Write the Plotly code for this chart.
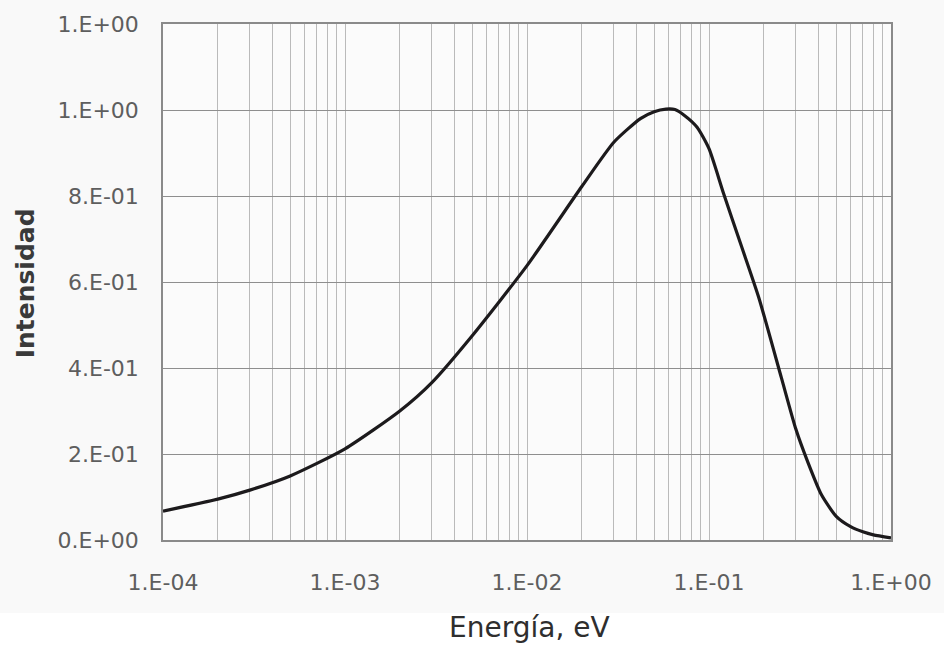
import plotly.graph_objects as go

# Data
energia_ev = [1e-4, 2e-4, 3e-4, 5e-4, 1e-3, 2e-3, 3e-3, 5e-3, 1e-2, 2e-2, 3e-2, 4.2e-2,
              5e-2, 5.8e-2, 6.5e-2, 7.3e-2, 8.6e-2, 0.1, 0.12, 0.15, 0.188, 0.25, 0.3,
              0.35, 0.415, 0.5, 0.6, 0.7, 0.8, 1.0]
intensidad = [0.067, 0.095, 0.116, 0.149, 0.212, 0.300, 0.366, 0.475, 0.638, 0.822,
              0.925, 0.980, 0.996, 1.002, 1.001, 0.988, 0.960, 0.910, 0.807, 0.686,
              0.563, 0.377, 0.258, 0.180, 0.105, 0.055, 0.031, 0.019, 0.012, 0.005]

y_tickvals = [0.0, 0.2, 0.4, 0.6, 0.8, 1.0, 1.2]
y_ticktext = ["0.E+00", "2.E-01", "4.E-01", "6.E-01", "8.E-01", "1.E+00", "1.E+00"]

decades = [1e-4, 1e-3, 1e-2, 1e-1, 1e0]
decade_labels = ["1.E-04", "1.E-03", "1.E-02", "1.E-01", "1.E+00"]

x_tickvals, x_ticktext = [], []
for d, lab in zip(decades[:-1], decade_labels[:-1]):
    for m in range(1, 10):
        x_tickvals.append(d * m)
        x_ticktext.append(lab if m == 1 else "")
x_tickvals.append(decades[-1])
x_ticktext.append(decade_labels[-1])

FONT = "DejaVu Sans"

fig = go.Figure()
fig.add_trace(go.Scatter(
    x=energia_ev, y=intensidad, mode="lines",
    line=dict(color="#1c1a1c", width=3.2, shape="spline", smoothing=0.6),
    showlegend=False, hoverinfo="x+y",
))

fig.update_layout(
    width=944, height=646, autosize=False,
    margin=dict(l=163, r=46, t=24, b=106),
    paper_bgcolor="#f9f9f9",
    plot_bgcolor="#fbfbfb",
    font=dict(family=FONT, color="#5a5a5a", size=22),
    xaxis=dict(
        type="log", range=[-4, 0],
        tickmode="array", tickvals=x_tickvals, ticktext=x_ticktext,
        showgrid=True, gridcolor="#bababa", gridwidth=1,
        showline=True, linecolor="#8a8a8a", linewidth=1.5, mirror=True,
        ticks="", zeroline=False,
        tickfont=dict(family=FONT, size=22, color="#5e5e5e"),
        ticklabelstandoff=22,
    ),
    yaxis=dict(
        range=[0, 1.2],
        tickmode="array", tickvals=y_tickvals, ticktext=y_ticktext,
        showgrid=True, gridcolor="#8e8e8e", gridwidth=1.2,
        showline=True, linecolor="#8a8a8a", linewidth=1.5, mirror=True,
        ticks="", zeroline=False,
        tickfont=dict(family=FONT, size=22, color="#5e5e5e"),
        ticklabelstandoff=18,
    ),
    shapes=[dict(
        type="rect", xref="paper", yref="paper",
        x0=-0.3, x1=1.1, y0=-0.21, y1=-(613 - 540) / 516,
        fillcolor="#ffffff", line=dict(width=0), layer="below",
    )],
    annotations=[
        dict(text="Energía, eV", xref="paper", yref="paper",
             x=(533 - 163) / 735, y=-(627 - 540) / 516,
             xanchor="center", yanchor="middle", showarrow=False,
             font=dict(family=FONT, size=28, color="#2e2e2e")),
        dict(text="<b>Intensidad</b>", xref="paper", yref="paper",
             x=-(163 - 24) / 735, y=(540 - 283) / 516,
             xanchor="center", yanchor="middle", textangle=-90, showarrow=False,
             font=dict(family=FONT, size=25, color="#3a3a3a")),
    ],
)

fig.write_html(
    "out.html",
    config={"displayModeBar": False},
    post_script=(
        "document.documentElement.style.overflow='hidden';"
        "document.body.style.margin='0';document.body.style.overflow='hidden';"
    ),
)
